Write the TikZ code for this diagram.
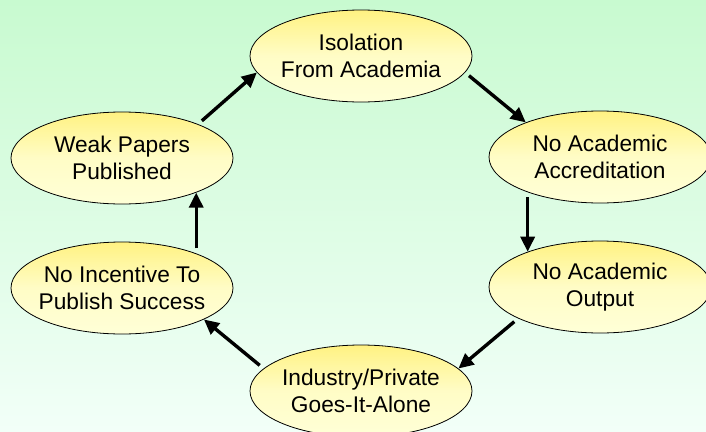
\documentclass[tikz,border=0pt]{standalone}
\usepackage{fontspec}
\setmainfont{Liberation Sans}
\usetikzlibrary{arrows.meta,shapes.geometric}

\definecolor{bgtop}{RGB}{200,250,208}
\definecolor{bgbottom}{RGB}{242,255,248}
\definecolor{stageedge}{RGB}{255,242,130}
\definecolor{stagecore}{RGB}{255,255,215}

\tikzset{
  % negative x inner sep keeps every ellipse at the same fixed size
  stage/.style={ellipse, draw=black, line width=0.8pt,
    minimum width=222pt, minimum height=92pt, inner xsep=-40pt, inner ysep=0pt,
    top color=stageedge, bottom color=stagecore, middle color=stagecore!80!stageedge,
    align=center, font=\fontsize{22.7}{26.7}\selectfont},
  flow/.style={line width=3.4pt, -{Triangle[length=15pt,width=14pt]},
    shorten <=5pt}
}

\begin{document}
\begin{tikzpicture}[x=1pt,y=-1pt]
  \useasboundingbox (0,0) rectangle (706,431);
  \shade[top color=bgtop, bottom color=bgbottom] (0,0) rectangle (706,431);

  % the six stages of the cycle
  \node[stage] (iso)  at (361,56)  {Isolation\\From Academia};
  \node[stage] (acc)  at (600,157) {No Academic\\Accreditation};
  \node[stage] (out)  at (600,287) {No Academic\\Output};
  \node[stage] (ind)  at (361,391) {Industry/Private\\Goes-It-Alone};
  \node[stage] (inc)  at (122,288) {No Incentive To\\Publish Success};
  \node[stage] (weak) at (122,158) {Weak Papers\\Published};

  % clockwise arrows between the stages
  \draw[flow] (weak.24) -- (iso.189);
  \draw[flow] (iso.351) -- (acc.155);
  \draw[flow] (acc.206) -- (out.154);
  \draw[flow] (out.201) -- (ind.13);
  \draw[flow] (ind.167) -- (inc.339);
  \draw[flow] (inc.25)  -- (weak.335);
\end{tikzpicture}
\end{document}
